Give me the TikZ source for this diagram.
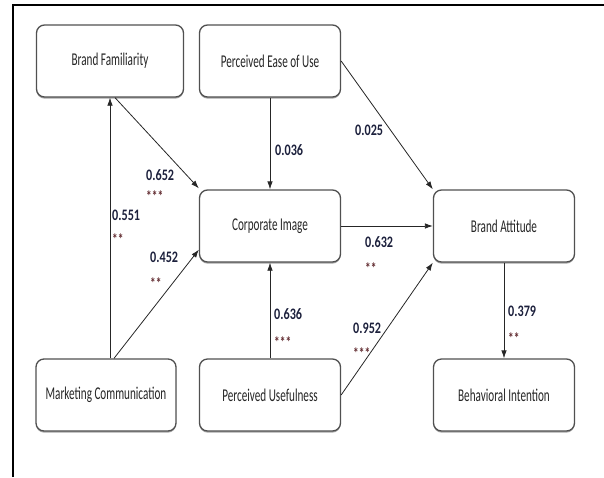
\documentclass[tikz,border=0pt]{standalone}
\usepackage{fontspec}
\setmainfont{Carlito}
\newfontfamily\boxfont{Carlito}[FakeStretch=0.62]
\newfontfamily\numfont{Carlito}[FakeStretch=0.76]
\usetikzlibrary{arrows.meta}
\usetikzlibrary{shadows}
\definecolor{numblue}{RGB}{28,32,60}
\definecolor{stardark}{RGB}{95,40,45}
\definecolor{boxedge}{RGB}{80,80,80}

\begin{document}
\begin{tikzpicture}[x=1pt, y=-1pt,
    factor/.style={draw=boxedge, line width=1.3pt, rounded corners=8pt, fill=white,
      minimum width=141pt, minimum height=72pt, font=\boxfont\fontsize{18}{20}\selectfont, text=black!85,
      drop shadow={shadow xshift=0pt, shadow yshift=-1.6pt, fill=gray!70, opacity=1}},
    link/.style={draw=black!85, line width=0.8pt, -{Latex[length=8pt,width=5.5pt]}},
    coef/.style={anchor=west, inner sep=0pt, font=\numfont\fontsize{16}{18}\selectfont\bfseries, text=numblue},
    sig/.style={anchor=west, inner sep=0pt, font=\numfont\fontsize{15}{17}\selectfont\bfseries, text=stardark}]
      \useasboundingbox (0,0) rectangle (604,477);
      \draw[line width=2.2pt] (13,477) -- (13,5) -- (604,5);

      \node[factor, minimum width=147pt] (bf)  at (110,61)  {Brand Familiarity};
      \node[factor] (peu) at (270,61)  {Perceived Ease of Use};
      \node[factor] (ci)  at (270,226) {Corporate Image};
      \node[factor, minimum width=140pt] (mc)  at (106,395) {Marketing Communication};
      \node[factor] (pu)  at (270,395) {Perceived Usefulness};
      \node[factor] (ba)  at (504,226) {Brand Attitude};
      \node[factor] (bi)  at (504,395) {Behavioral Intention};

      \draw[link] (mc.north -| bf.south) -- (bf.south);
      \draw[link] ([xshift=8pt]mc.north) -- ([yshift=13pt]ci.south west);
      \draw[link] ([xshift=5pt]bf.south) -- ([yshift=1pt]ci.north west);
      \draw[link] (peu.south) -- (ci.north);
      \draw[link] (peu.east) -- (ba.north west);
      \draw[link] (ci.east) -- (ba.west);
      \draw[link] (pu.east) -- (ba.south west);
      \draw[link] (pu.north) -- (ci.south);
      \draw[link] (ba.south) -- (bi.north);

      \node[coef] (c1) at (146,175) {0.652};
      \node[sig]  (s1) at (146,196) {***};
      \node[coef] (c2) at (112,215) {0.551};
      \node[sig]  (s2) at (112,239) {**};
      \node[coef] (c3) at (150,257) {0.452};
      \node[sig]  (s3) at (150,283) {**};
      \node[coef] (c4) at (275,150) {0.036};
      \node[coef] (c5) at (355,130) {0.025};
      \node[coef] (c6) at (365,242) {0.632};
      \node[sig]  (s6) at (365,268) {**};
      \node[coef] (c7) at (274,314) {0.636};
      \node[sig]  (s7) at (274,342) {***};
      \node[coef] (c8) at (353,328) {0.952};
      \node[sig]  (s8) at (353,353) {***};
      \node[coef] (c9) at (508,311) {0.379};
      \node[sig]  (s9) at (508,338) {**};
    \end{tikzpicture}
\end{document}
